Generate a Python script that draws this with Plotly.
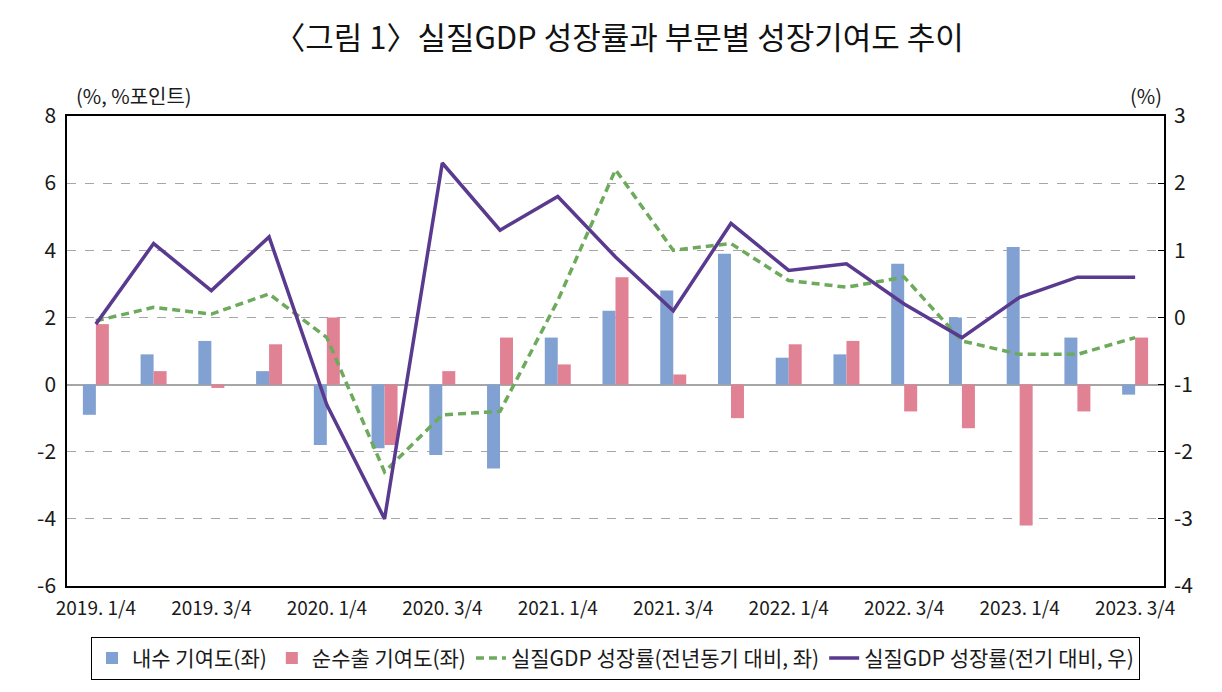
import plotly.graph_objects as go

categories = ["2019. 1/4", "2019. 2/4", "2019. 3/4", "2019. 4/4",
              "2020. 1/4", "2020. 2/4", "2020. 3/4", "2020. 4/4",
              "2021. 1/4", "2021. 2/4", "2021. 3/4", "2021. 4/4",
              "2022. 1/4", "2022. 2/4", "2022. 3/4", "2022. 4/4",
              "2023. 1/4", "2023. 2/4", "2023. 3/4"]
tick_labels = categories[::2]

left_ticks = [-6, -4, -2, 0, 2, 4, 6, 8]
right_ticks = [-4, -3, -2, -1, 0, 1, 2, 3]

domestic = [-0.9, 0.9, 1.3, 0.4, -1.8, -1.9, -2.1, -2.5, 1.4, 2.2,
            2.8, 3.9, 0.8, 0.9, 3.6, 2.0, 4.1, 1.4, -0.3]
net_export = [1.8, 0.4, -0.1, 1.2, 2.0, -1.8, 0.4, 1.4, 0.6, 3.2,
              0.3, -1.0, 1.2, 1.3, -0.8, -1.3, -4.2, -0.8, 1.4]
gdp_yoy = [1.9, 2.3, 2.1, 2.7, 1.4, -2.6, -0.9, -0.8, 2.5, 6.4,
           4.0, 4.2, 3.1, 2.9, 3.2, 1.3, 0.9, 0.9, 1.4]
gdp_qoq = [-0.1, 1.1, 0.4, 1.2, -1.3, -3.0, 2.3, 1.3, 1.8, 0.9,
           0.1, 1.4, 0.7, 0.8, 0.2, -0.3, 0.3, 0.6, 0.6]

FONT = "Noto Sans CJK KR"

fig = go.Figure()
fig.add_trace(go.Bar(x=categories, y=domestic, name="내수 기여도(좌)",
                     marker=dict(color="#80A1D1", line=dict(width=0))))
fig.add_trace(go.Bar(x=categories, y=net_export, name="순수출 기여도(좌)",
                     marker=dict(color="#E08194", line=dict(width=0))))
fig.add_trace(go.Scatter(x=categories, y=gdp_yoy, name="실질GDP 성장률(전년동기 대비, 좌)",
                         mode="lines", line=dict(color="#6DAA5C", width=3.5, dash="8px,5px")))
fig.add_trace(go.Scatter(x=categories, y=gdp_qoq, name="실질GDP 성장률(전기 대비, 우)",
                         mode="lines", yaxis="y2", line=dict(color="#5A3A8E", width=3.5)))

fig.update_layout(
    width=1222, height=692,
    paper_bgcolor="white", plot_bgcolor="white",
    margin=dict(l=59, r=66, t=108, b=114),
    font=dict(family=FONT, size=19, color="#1a1a1a"),
    title=dict(text="〈그림 1〉실질GDP 성장률과 부문별 성장기여도 추이",
               x=0.5, xanchor="center", y=1 - 30 / 692, yanchor="middle",
               font=dict(family=FONT, size=31, color="#111")),
    barmode="group", bargap=0.55, bargroupgap=0,
    showlegend=True,
    legend=dict(orientation="h", x=0.5, xanchor="center", y=-0.108, yanchor="top",
                bordercolor="black", borderwidth=1, bgcolor="white",
                font=dict(family=FONT, size=21, color="#1a1a1a"),
                itemwidth=30, tracegroupgap=0),
    xaxis=dict(type="category", tickmode="array", tickvals=tick_labels, ticktext=tick_labels,
               showline=True, linecolor="black", linewidth=1.5, mirror=True,
               showgrid=False, ticks="", tickfont=dict(size=19), ticklabelstandoff=4),
    yaxis=dict(range=[-6, 8], tickmode="array", tickvals=left_ticks,
               ticktext=[str(v) for v in left_ticks],
               showline=True, linecolor="black", linewidth=1.5,
               showgrid=True, gridcolor="#A6A6A6", griddash="dash", gridwidth=1,
               zeroline=True, zerolinecolor="#A6A6A6", zerolinewidth=1.5,
               ticks="", tickfont=dict(size=21), ticklabelstandoff=5),
    yaxis2=dict(range=[-4, 3], tickmode="array", tickvals=right_ticks,
                ticktext=[str(v) for v in right_ticks],
                overlaying="y", side="right",
                showline=True, linecolor="black", linewidth=1.5,
                showgrid=False, zeroline=False,
                ticks="inside", ticklen=6, tickcolor="black",
                tickfont=dict(size=21), ticklabelstandoff=4),
)

fig.add_annotation(text="(%, %포인트)", xref="paper", yref="paper", x=0.006, y=1.0,
                   xanchor="left", yanchor="bottom", yshift=4, showarrow=False,
                   font=dict(family=FONT, size=20, color="#1a1a1a"))
fig.add_annotation(text="(%)", xref="paper", yref="paper", x=1.0, y=1.0,
                   xanchor="right", yanchor="bottom", yshift=4, showarrow=False,
                   font=dict(family=FONT, size=20, color="#1a1a1a"))

fig.write_html("out.html")
